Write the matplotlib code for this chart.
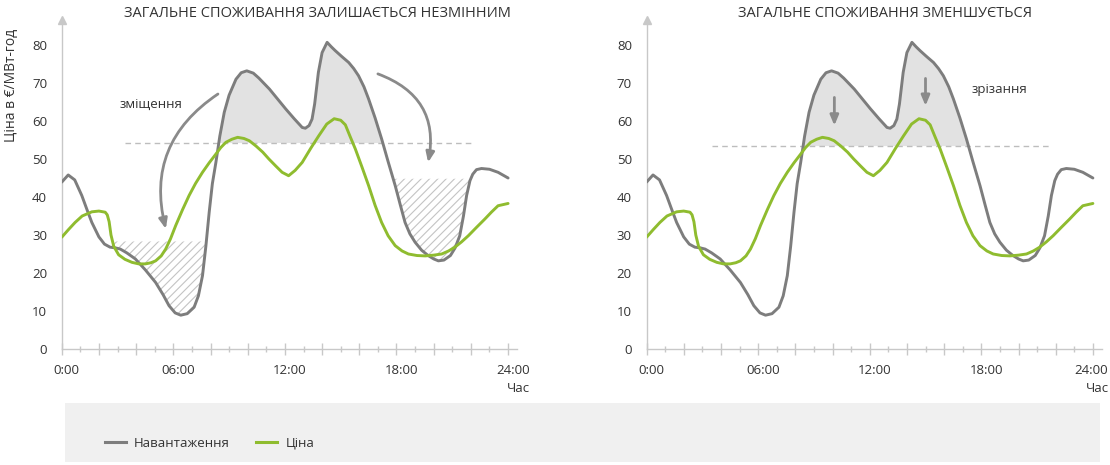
import matplotlib
matplotlib.use("Agg")
import numpy as np
import matplotlib.pyplot as plt
from matplotlib.patches import Rectangle
from matplotlib.transforms import ScaledTranslation

plt.rcParams['font.family'] = ['Open Sans', 'DejaVu Sans']
plt.rcParams['hatch.linewidth'] = 0.8

# load curve (Навантаження)
load_hours = [0.0, 0.35, 0.7, 1.08, 1.35, 1.62, 2.0, 2.3, 2.6, 2.9, 3.15, 3.5, 3.96, 4.5,
              5.05, 5.45, 5.77, 6.1, 6.4, 6.75, 7.12, 7.35, 7.57, 7.75, 7.93, 8.1, 8.29,
              8.5, 8.74, 9.0, 9.37, 9.65, 9.95, 10.3, 10.6, 11.17, 12.04, 12.5, 12.93,
              13.1, 13.3, 13.46, 13.6, 13.8, 14.0, 14.27, 14.5, 14.71, 15.05, 15.43, 15.7,
              15.96, 16.25, 16.5, 16.85, 17.2, 17.55, 17.93, 18.2, 18.46, 18.72, 19.0,
              19.35, 19.7, 20.0, 20.25, 20.55, 20.9, 21.15, 21.4, 21.6, 21.77, 21.95,
              22.1, 22.3, 22.57, 23.0, 23.46, 24.0]
load = [43.9, 45.8, 44.5, 40.4, 36.8, 33.3, 29.5, 27.6, 26.8, 26.6, 26.3, 25.3, 23.7, 20.8,
        17.5, 14.3, 11.4, 9.5, 8.9, 9.3, 11.0, 14.0, 19.3, 27.0, 36.0, 43.5, 49.1,
        56.0, 62.3, 66.8, 71.0, 72.7, 73.2, 72.6, 71.3, 68.4, 63.2, 60.6, 58.3,
        58.1, 58.8, 60.5, 64.5, 72.8, 78.0, 80.7, 79.5, 78.5, 77.0, 75.4, 73.8,
        71.9, 69.0, 65.8, 60.8, 55.3, 49.3, 43.0, 38.0, 33.3, 30.3, 28.1,
        26.0, 24.6, 23.7, 23.2, 23.4, 24.6, 26.6, 29.8, 35.0, 40.4, 44.3,
        46.0, 47.2, 47.5, 47.3, 46.5, 45.0]

# price curve (Ціна)
price_hours = [0.0, 0.36, 0.72, 1.1, 1.62, 2.0, 2.34, 2.45, 2.55, 2.65, 2.8, 3.06, 3.4, 3.78,
               4.14, 4.5, 4.8, 5.05, 5.35, 5.59, 5.85, 6.13, 6.5, 6.85, 7.2, 7.57, 7.93,
               8.29, 8.55, 8.83, 9.15, 9.46, 9.8, 10.09, 10.45, 10.81, 11.14, 11.5, 11.85,
               12.2, 12.55, 12.93, 13.4, 13.82, 14.25, 14.65, 15.0, 15.25, 15.5, 15.79,
               16.15, 16.5, 16.85, 17.2, 17.55, 17.93, 18.3, 18.64, 19.1, 19.54, 20.0,
               20.43, 20.8, 21.14, 21.5, 21.86, 22.3, 22.75, 23.1, 23.46, 24.0]
price = [29.4, 31.4, 33.3, 35.0, 36.1, 36.3, 36.0, 35.3, 33.5, 30.0, 27.0, 24.8, 23.6, 22.8,
         22.4, 22.4, 22.7, 23.2, 24.5, 26.3, 29.0, 32.5, 36.7, 40.4, 43.6, 46.5, 49.0,
         51.3, 53.0, 54.4, 55.2, 55.7, 55.4, 54.8, 53.4, 51.8, 50.0, 48.2, 46.5,
         45.6, 47.0, 49.1, 52.9, 56.1, 59.2, 60.6, 60.2, 59.0, 56.0, 52.6,
         47.8, 43.0, 37.8, 33.3, 29.8, 27.2, 25.8, 25.0, 24.6, 24.5, 24.7,
         25.0, 25.8, 26.8, 28.2, 29.8, 32.0, 34.2, 36.0, 37.7, 38.3]

tick_hours = [0, 6, 12, 18, 24]
tick_labels = ["0:00", "06:00", "12:00", "18:00", "24:00"]
y_ticks = [0, 10, 20, 30, 40, 50, 60, 70, 80]

titles = ["ЗАГАЛЬНЕ СПОЖИВАННЯ ЗАЛИШАЄТЬСЯ НЕЗМІННИМ", "ЗАГАЛЬНЕ СПОЖИВАННЯ ЗМЕНШУЄТЬСЯ"]
peak_level = [54.2, 53.4]        # dashed line
dashed_span = [(3.4, 22.2), (3.5, 21.8)]
shift_low_level = 28.3           # hatched morning area
shift_high_level = 44.8          # hatched evening area

GRAY = '#7d7d7d'
GREEN = '#8fbc2f'
AXCOL = '#c8c8c8'
TXT = '#333333'

fig = plt.figure(figsize=(11.1, 4.65), dpi=100)
W, H = 1110, 465

# legend background
fig.patches.append(Rectangle((65 / W, 3 / H), 1035 / W, 59 / H, transform=fig.transFigure,
                             facecolor='#f0f0f0', edgecolor='none', zorder=0))

lefts = [61.7, 646.5]
title_x = [317.5, 885.5]
axes = []
x = np.array(load_hours)
y = np.array(load)
for i, lp in enumerate(lefts):
    ax = fig.add_axes([lp / W, 116 / H, 465 / W, 334.4 / H])
    ax.set_xlim(0, 25)
    ax.set_ylim(0, 88)
    ax.patch.set_alpha(0)
    for s in ['top', 'right']:
        ax.spines[s].set_visible(False)
    for s in ['left', 'bottom']:
        ax.spines[s].set_color(AXCOL)
        ax.spines[s].set_linewidth(1)
    ax.spines['left'].set_bounds(0, 86)
    ax.spines['bottom'].set_bounds(0, 24.5)
    ax.plot(0, 86.5, marker='^', color=AXCOL, markersize=6, clip_on=False)

    ax.set_yticks(y_ticks)
    ax.tick_params(axis='y', length=0, pad=10.5, labelsize=9.5, labelcolor=TXT)
    ax.set_xticks(range(0, 25, 2))
    ax.set_xticklabels([tick_labels[tick_hours.index(h)] if h in tick_hours else ''
                        for h in range(0, 25, 2)])
    ax.set_xticks(range(0, 25), minor=True)
    ax.tick_params(axis='x', which='major', direction='inout', length=9, width=1,
                   color=AXCOL, pad=6, labelsize=9.5, labelcolor=TXT)
    ax.tick_params(axis='x', which='minor', direction='inout', length=5, width=1,
                   color=AXCOL)
    for lab in ax.get_xticklabels():
        lab.set_transform(lab.get_transform() + ScaledTranslation(0.05, 0, fig.dpi_scale_trans))
    if i == 0:
        ax.text(25.2, -10.3, 'Час', ha='right', va='center', fontsize=9.5, color=TXT,
                clip_on=False)
    else:
        # keep the right panel's last labels inside the figure
        last = ax.get_xticklabels()[-1]
        last.set_horizontalalignment('right')
        last.set_transform(last.get_transform() + ScaledTranslation(0.1, 0, fig.dpi_scale_trans))
        ax.text(24.85, -10.3, 'Час', ha='right', va='center', fontsize=9.5, color=TXT,
                clip_on=False)

    lvl = peak_level[i]
    ax.fill_between(x, y, lvl, where=y > lvl, interpolate=True, facecolor='#e2e2e2',
                    edgecolor='none', zorder=1)
    ax.plot(dashed_span[i], [lvl, lvl], color='#bdbdbd', lw=1, dashes=(4, 3), zorder=2)

    ax.plot(load_hours, load, color=GRAY, lw=2.1, zorder=4, solid_capstyle='round',
            solid_joinstyle='round')
    ax.plot(price_hours, price, color=GREEN, lw=2.1, zorder=5, solid_capstyle='round',
            solid_joinstyle='round')
    axes.append(ax)

    ax.set_title(titles[i], fontsize=10.5, color=TXT, x=(title_x[i] - lp) / 465,
                 y=(349 - 22) / 334.4, va='center')

# left panel: load shifting
ax = axes[0]
ax.fill_between(x, y, shift_low_level, where=(x >= 2.9) & (x < 9) & (y < shift_low_level),
                interpolate=True, facecolor='none', edgecolor='#c4c4c4', hatch='////',
                linewidth=0, zorder=1)
ax.fill_between(x, y, shift_high_level, where=(x > 17) & (x < 23) & (y < shift_high_level),
                interpolate=True, facecolor='none', edgecolor='#c4c4c4', hatch='////',
                linewidth=0, zorder=1)
ax.text(3.13, 64.3, 'зміщення', fontsize=9.5, color=TXT, va='center', ha='left')
arrow = dict(arrowstyle='-|>,head_length=0.6,head_width=0.25', color='#8a8a8a', lw=2,
             shrinkA=0, shrinkB=0)
ax.annotate('', xy=(5.6, 31.6), xytext=(8.4, 67.1),
            arrowprops=dict(connectionstyle='arc3,rad=0.35', **arrow))
ax.annotate('', xy=(19.7, 49.1), xytext=(17.0, 72.4),
            arrowprops=dict(connectionstyle='arc3,rad=-0.42', **arrow))

# right panel: peak shaving
ax = axes[1]
ax.annotate('', xy=(10.1, 58.8), xytext=(10.1, 66.2), arrowprops=arrow)
ax.annotate('', xy=(15.0, 64.0), xytext=(15.0, 71.2), arrowprops=arrow)
ax.text(17.5, 68.3, 'зрізання', fontsize=9.5, color=TXT, va='center', ha='left')

fig.text(12 / W, 1 - 85 / H, 'Ціна в €/МВт-год', rotation=90, ha='center', va='center',
         fontsize=10, color=TXT)

h1, = axes[0].plot([], [], color=GRAY, lw=2.2)
h2, = axes[0].plot([], [], color=GREEN, lw=2.2)
fig.legend([h1, h2], ['Навантаження', 'Ціна'], loc='center left',
           bbox_to_anchor=(105 / W, 1 - 443 / H), ncol=2, frameon=False, fontsize=9.5,
           handlelength=1.6, handletextpad=0.6, columnspacing=2.0, borderpad=0,
           borderaxespad=0, labelcolor=TXT)

fig.savefig('out.png', dpi=100)
